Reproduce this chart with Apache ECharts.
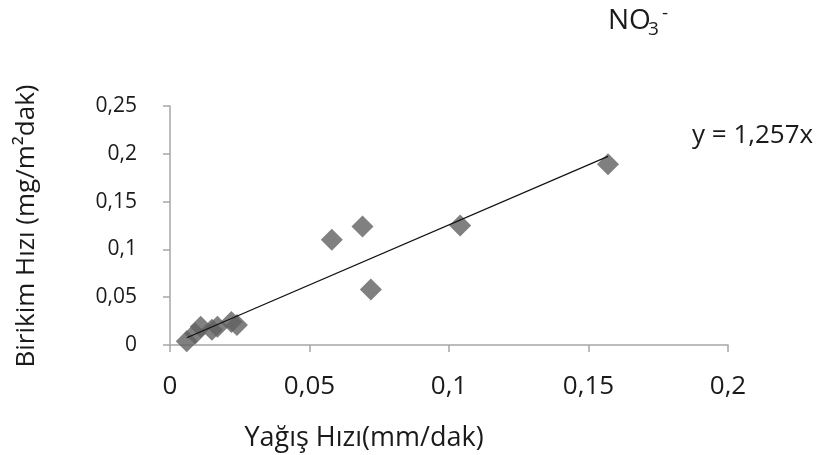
<!DOCTYPE html>
<html>
<head>
<meta charset="utf-8">
<script src="https://cdn.jsdelivr.net/npm/echarts@6/dist/echarts.min.js"></script>
<style>
  html, body { margin: 0; padding: 0; background: #fff; }
  #chart { width: 832px; height: 455px; }
</style>
</head>
<body>
<div id="chart"></div>
<script>
// Yağış hızı (mm/dak) vs birikim hızı (mg/m2dak), NO3-
var xValues = [0.006, 0.009, 0.011, 0.015, 0.017, 0.022, 0.024, 0.058, 0.069, 0.072, 0.104, 0.157];
var yValues = [0.004, 0.012, 0.019, 0.016, 0.019, 0.024, 0.021, 0.110, 0.124, 0.058, 0.125, 0.189];
var slope = 1.257;
var xTicks = [0, 0.05, 0.1, 0.15, 0.2];
var yTicks = [0, 0.05, 0.1, 0.15, 0.2, 0.25];

var points = xValues.map(function (x, i) { return [x, yValues[i]]; });
var xMin = Math.min.apply(null, xValues);
var xMax = Math.max.apply(null, xValues);
var trend = [[xMin, slope * xMin], [xMax, slope * xMax]];

function comma(v) {
  return String(+v.toFixed(3)).replace('.', ',');
}

var font = '"Open Sans", "DejaVu Sans", sans-serif';
var ink = '#1a1a1a';
var myChart = echarts.init(document.getElementById('chart'));
var option = {
  animation: false,
  backgroundColor: '#fff',
  textStyle: { fontFamily: font },
  grid: { left: 170, right: 104, top: 106, bottom: 110 },
  xAxis: {
    type: 'value',
    min: xTicks[0],
    max: xTicks[xTicks.length - 1],
    interval: 0.05,
    axisLine: { show: true, lineStyle: { color: '#a6a6a6', width: 1.5 } },
    axisTick: { show: true, length: 7, lineStyle: { color: '#a6a6a6', width: 1.5 } },
    splitLine: { show: false },
    axisLabel: { margin: 29, fontSize: 26, color: ink, formatter: comma }
  },
  yAxis: {
    type: 'value',
    min: yTicks[0],
    max: yTicks[yTicks.length - 1],
    interval: 0.05,
    axisLine: { show: true, lineStyle: { color: '#a6a6a6', width: 1.5 } },
    axisTick: { show: true, length: 7, lineStyle: { color: '#a6a6a6', width: 1.5 } },
    splitLine: { show: false },
    axisLabel: { margin: 33, fontSize: 21, color: ink, formatter: comma }
  },
  graphic: [
    // title NO3-
    {
      type: 'text', x: 608, y: 21,
      style: { text: 'NO', fontSize: 28, fill: ink, fontFamily: font, align: 'left', verticalAlign: 'middle' }
    },
    {
      type: 'text', x: 648, y: 30,
      style: { text: '3', fontSize: 19, fill: ink, fontFamily: font, align: 'left', verticalAlign: 'middle' }
    },
    {
      type: 'text', x: 662, y: 14,
      style: { text: '-', fontSize: 19, fill: ink, fontFamily: font, align: 'left', verticalAlign: 'middle' }
    },
    {
      type: 'text', x: 364, y: 438,
      style: { text: 'Yağış Hızı(mm/dak)', fontSize: 27, fill: ink, fontFamily: font, align: 'center', verticalAlign: 'middle' }
    },
    {
      type: 'text', x: 27, y: 226,
      rotation: Math.PI / 2,
      style: { text: 'Birikim Hızı (mg/m²dak)', fontSize: 26, fill: ink, fontFamily: font, align: 'center', verticalAlign: 'middle' }
    },
    {
      type: 'text', x: 692, y: 136,
      style: { text: 'y = 1,257x', fontSize: 26, fill: ink, fontFamily: font, align: 'left', verticalAlign: 'middle' }
    }
  ],
  series: [
    {
      type: 'line',
      data: trend,
      symbol: 'none',
      lineStyle: { color: '#111', width: 1.2 },
      z: 3
    },
    {
      type: 'scatter',
      data: points,
      symbol: 'diamond',
      symbolSize: [22, 22],
      itemStyle: { color: '#606060' },
      z: 2
    }
  ]
};
myChart.setOption(option);
</script>
</body>
</html>
